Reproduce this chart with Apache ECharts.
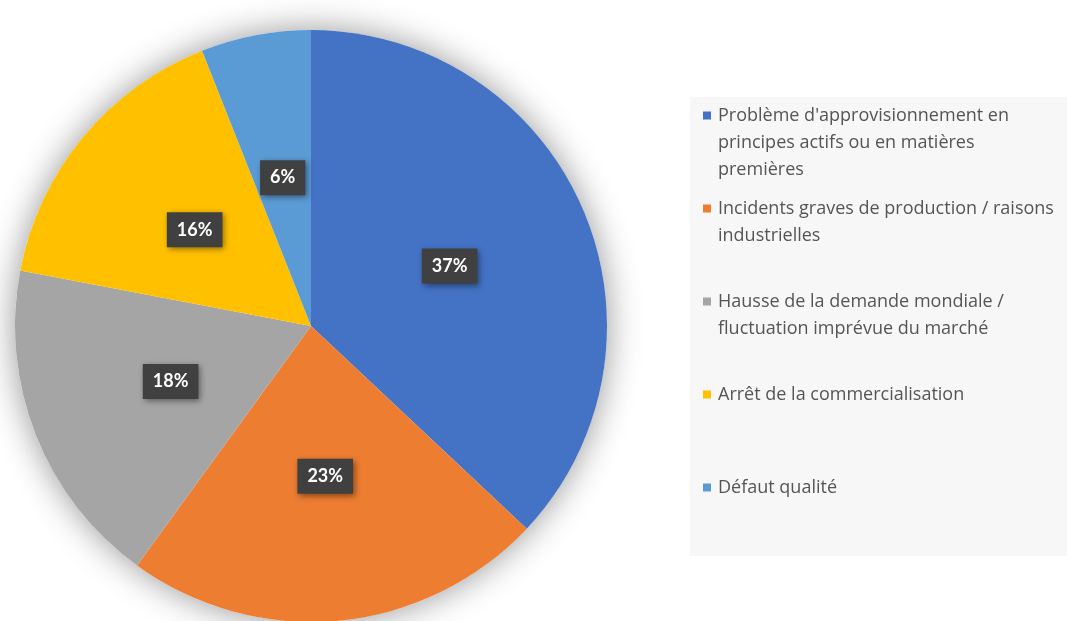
<!DOCTYPE html>
<html>
<head>
<meta charset="utf-8">
<script src="https://cdn.jsdelivr.net/npm/echarts@6/dist/echarts.min.js"></script>
<style>
  html, body { margin: 0; padding: 0; background: #ffffff; }
  #chart { width: 1067px; height: 621px; }
</style>
</head>
<body>
<div id="chart"></div>
<script>
const categories = [
  "Problème d'approvisionnement en principes actifs ou en matières premières",
  'Incidents graves de production / raisons industrielles',
  'Hausse de la demande mondiale / fluctuation imprévue du marché',
  'Arrêt de la commercialisation',
  'Défaut qualité'
];
const shares = [37, 23, 18, 16, 6];
const colors = ['#4472C4', '#ED7D31', '#A5A5A5', '#FFC000', '#5B9BD5'];

// legend text as wrapped in the reference (each slot is 3 lines tall)
const legendLines = [
  ["Problème d'approvisionnement en", 'principes actifs ou en matières', 'premières'],
  ['Incidents graves de production / raisons', 'industrielles', ''],
  ['Hausse de la demande mondiale /', 'fluctuation imprévue du marché', ''],
  ['Arrêt de la commercialisation', '', ''],
  ['Défaut qualité', '', '']
];

const chart = echarts.init(document.getElementById('chart'));

const rich = {
  gap: { width: 7 },
  ind: { width: 15 },
  t: { color: '#555555', fontSize: 18, lineHeight: 27, fontFamily: 'Open Sans' }
};
colors.forEach((c, i) => {
  rich['sq' + i] = { width: 8, height: 8, backgroundColor: c };
});

chart.setOption({
  backgroundColor: '#ffffff',
  animation: false,
  graphic: [
    {
      type: 'rect',
      left: 690,
      top: 97,
      z: -10,
      shape: { width: 400, height: 459 },
      style: { fill: '#f7f7f7' }
    }
  ],
  legend: {
    orient: 'vertical',
    left: 698,
    top: 102,
    padding: 0,
    itemWidth: 0,
    itemHeight: 0,
    itemGap: 12,
    selectedMode: false,
    data: categories,
    textStyle: {
      color: '#555555',
      fontSize: 18,
      lineHeight: 27,
      fontFamily: 'Open Sans',
      rich: rich
    },
    formatter: (name) => {
      const i = categories.indexOf(name);
      const lines = legendLines[i];
      return lines
        .map((line, k) => {
          if (k === 0) {
            return '{sq' + i + '|}{gap|}{t|' + line + '}';
          }
          return '{ind|}{t|' + (line || ' ') + '}';
        })
        .join('\n');
    }
  },
  series: [
    {
      // soft shadow behind the pie
      type: 'pie',
      silent: true,
      z: 1,
      center: [311, 326],
      radius: 296,
      label: { show: false },
      labelLine: { show: false },
      data: [{ value: 1, name: '__shadow' }],
      itemStyle: {
        color: '#ffffff',
        shadowBlur: 34,
        shadowColor: 'rgba(0, 0, 0, 0.42)'
      }
    },
    {
      type: 'pie',
      z: 2,
      center: [311, 326],
      radius: 296,
      startAngle: 90,
      clockwise: true,
      data: categories.map((name, i) => ({
        name: name,
        value: shares[i],
        itemStyle: { color: colors[i] }
      })),
      label: {
        show: true,
        position: 'inside',
        formatter: (p) => p.value + '%',
        color: '#ffffff',
        fontFamily: 'Lato',
        fontWeight: 'bold',
        fontSize: 18,
        lineHeight: 21,
        backgroundColor: '#404040',
        padding: [7, 10],
        shadowBlur: 6,
        shadowColor: 'rgba(0, 0, 0, 0.45)',
        shadowOffsetX: 2,
        shadowOffsetY: 2
      },
      labelLine: { show: false },
      emphasis: { disabled: true }
    }
  ]
});
</script>
</body>
</html>
